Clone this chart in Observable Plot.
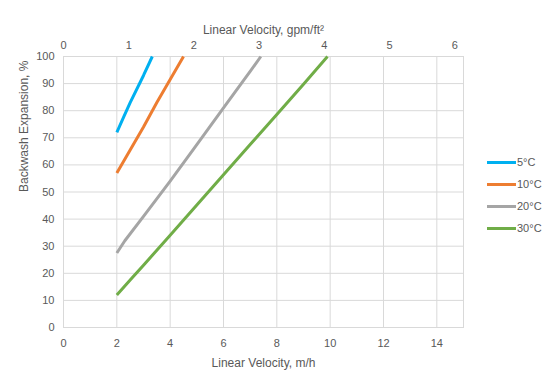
<!DOCTYPE html>
<html>
<head>
<meta charset="utf-8">
<script src="https://cdn.jsdelivr.net/npm/d3@7"></script>
<script src="https://cdn.jsdelivr.net/npm/@observablehq/plot@0.6"></script>
<style>
  html, body { margin: 0; padding: 0; background: #fff; }
  #wrap { position: relative; width: 550px; height: 384px; font-family: "Liberation Sans", Arial, sans-serif; }
  #legend { position: absolute; left: 487px; top: 151px; font-size: 11px; color: #595959; }
  #legend .item { display: flex; align-items: center; height: 22px; }
  #legend .sw { width: 29px; height: 3px; margin-right: 1px; }
</style>
</head>
<body>
<div id="wrap"><div id="legend"></div></div>
<script>
// Series data (x: linear velocity m/h, y: backwash expansion %)
const series = ["5°C", "10°C", "20°C", "30°C"];
const colors = ["#00b0f0", "#ed7d31", "#a5a5a5", "#70ad47"];
const v5  = [2, 2.25, 2.5, 3, 3.33];
const e5  = [72, 77.5, 83, 93, 100];
const v10 = [2, 2.5, 3, 3.5, 4, 4.5];
const e10 = [57, 65.5, 74, 83, 91.5, 100];
const v20 = [2, 2.3, 3, 4, 5, 6, 7, 7.4];
const e20 = [27.5, 32, 41, 54, 67.5, 81, 94.5, 100];
const v30 = [2, 2.5, 3, 4, 5, 6, 7, 8, 9, 9.9];
const e30 = [12, 17.5, 23, 34, 45.2, 56.4, 67.5, 78.6, 89.8, 100];

const xTicks = [0, 2, 4, 6, 8, 10, 12, 14];
const yTicks = [0, 10, 20, 30, 40, 50, 60, 70, 80, 90, 100];
const gpmTicks = [0, 1, 2, 3, 4, 5, 6];
const GPM_TO_MH = 2.445;

const xs = [v5, v10, v20, v30];
const ys = [e5, e10, e20, e30];
const data = series.flatMap((s, i) => xs[i].map((x, j) => ({series: s, x, y: ys[i][j]})));

const font = "Liberation Sans, Arial, sans-serif";
const grid = "#d9d9d9";
const txt = "#595959";

const chart = Plot.plot({
  width: 550,
  height: 384,
  marginLeft: 63,
  marginRight: 87,
  marginTop: 56,
  marginBottom: 57,
  style: {fontFamily: font, fontSize: "11px", color: txt, background: "white"},
  x: {domain: [0, 15]},
  y: {domain: [0, 100]},
  color: {domain: series, range: colors},
  marks: [
    Plot.gridX(xTicks, {stroke: grid, strokeOpacity: 1}),
    Plot.gridY(yTicks, {stroke: grid, strokeOpacity: 1}),
    Plot.frame({stroke: grid}),
    Plot.axisX(xTicks, {anchor: "bottom", tickSize: 0, tickPadding: 12, label: null, fill: txt}),
    Plot.axisX(gpmTicks.map(g => g * GPM_TO_MH), {anchor: "top", tickSize: 0, tickPadding: 8, label: null, fill: txt,
      tickFormat: d => String(Math.round(d / GPM_TO_MH))}),
    Plot.axisY(yTicks, {anchor: "left", tickSize: 0, tickPadding: 9, label: null, fill: txt}),
    Plot.text(["Linear Velocity, m/h"], {frameAnchor: "bottom", dy: 39, fill: txt, fontSize: 12}),
    Plot.text(["Linear Velocity, gpm/ft²"], {frameAnchor: "top", dy: -31, fill: txt, fontSize: 12}),
    Plot.text(["Backwash Expansion, %"], {frameAnchor: "left", dx: -39, rotate: -90, fill: txt, fontSize: 12}),
    Plot.line(data, {x: "x", y: "y", z: "series", stroke: "series", strokeWidth: 3, strokeLinecap: "butt", strokeLinejoin: "round"})
  ]
});
document.getElementById("wrap").prepend(chart);

const legend = document.getElementById("legend");
series.forEach((s, i) => {
  const item = document.createElement("div");
  item.className = "item";
  item.innerHTML = `<span class="sw" style="background:${colors[i]}"></span><span>${s}</span>`;
  legend.appendChild(item);
});
</script>
</body>
</html>
